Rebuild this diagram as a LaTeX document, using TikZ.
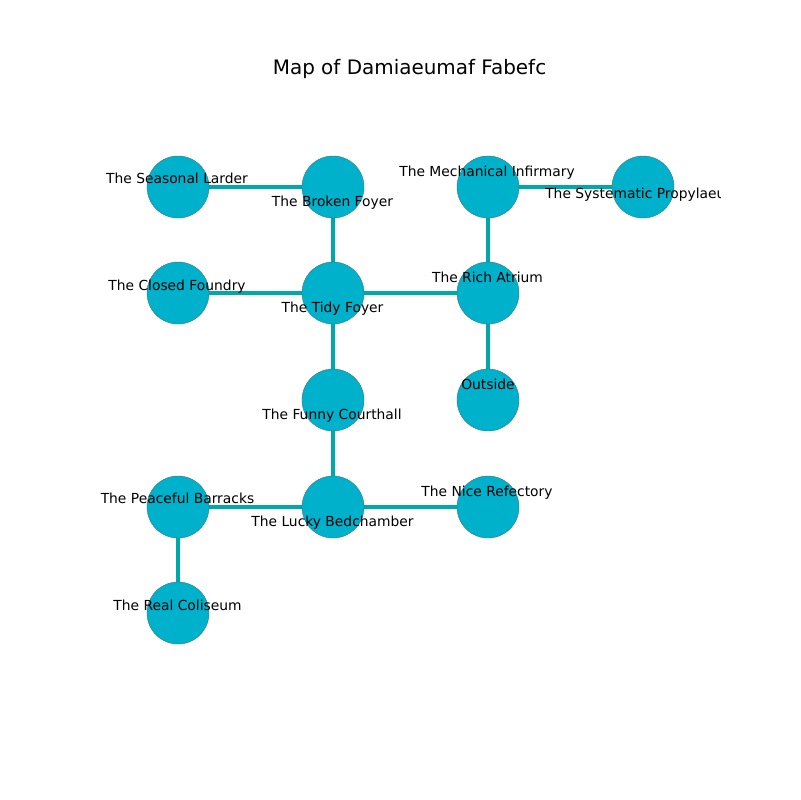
\documentclass[tikz,border=0pt]{standalone}
\usepackage{fontspec}
\setmainfont{DejaVu Sans}
\usetikzlibrary{backgrounds}
\definecolor{roomfill}{RGB}{0,177,203}
\definecolor{roomedge}{RGB}{60,120,130}
\definecolor{passage}{RGB}{0,168,170}
\begin{document}
\begin{tikzpicture}[x=0.01in,y=-0.01in,
  room/.style={circle,fill=roomfill,draw=roomedge,line width=0.3pt,minimum size=0.62in,inner sep=0pt},
  passage/.style={draw=passage,line width=0.045in},
  lbl/.style={font=\fontsize{10}{12}\selectfont,anchor=base,inner sep=0pt}]
\useasboundingbox (0,0) rectangle (800,800);
\node[font=\fontsize{14.4}{17}\selectfont,anchor=base,inner sep=0pt] (title) at (409.5,74.5) {Map of Damiaeumaf Fabefc};
\begin{scope}
\clip (100,96) rectangle (720,712);
% rooms
\node[room] (larder) at (178,187) {};
\node[room] (broken) at (333,187) {};
\node[room] (mech) at (488,187) {};
\node[room] (syst) at (643,187) {};
\node[room] (foundry) at (178,293) {};
\node[room] (tidy) at (333,293) {};
\node[room] (rich) at (488,293) {};
\node[room] (funny) at (333,400) {};
\node[room] (outside) at (488,400) {};
\node[room] (barracks) at (178,507) {};
\node[room] (lucky) at (333,507) {};
\node[room] (refectory) at (488,507) {};
\node[room] (coliseum) at (178,613) {};
% passages, kept beneath the rooms
\begin{scope}[on background layer]
\draw[passage] (larder) -- (broken);
\draw[passage] (mech) -- (syst);
\draw[passage] (broken) -- (tidy);
\draw[passage] (mech) -- (rich);
\draw[passage] (foundry) -- (tidy);
\draw[passage] (tidy) -- (rich);
\draw[passage] (rich) -- (outside);
\draw[passage] (tidy) -- (funny);
\draw[passage] (funny) -- (lucky);
\draw[passage] (barracks) -- (lucky);
\draw[passage] (lucky) -- (refectory);
\draw[passage] (barracks) -- (coliseum);
\end{scope}
% room names
\node[lbl] (tlarder) at (177,183.5) {The Seasonal Larder};
\node[lbl] (tbroken) at (332.5,206.5) {The Broken Foyer};
\node[lbl] (tmech) at (487,176.5) {The Mechanical Infirmary};
\node[lbl,anchor=base west] (tsyst) at (545,198.5) {The Systematic Propylaeum};
\node[lbl] (tfoundry) at (177,290.5) {The Closed Foundry};
\node[lbl] (ttidy) at (332.5,312.5) {The Tidy Foyer};
\node[lbl] (trich) at (487.5,282.5) {The Rich Atrium};
\node[lbl] (toutside) at (488,389.5) {Outside};
\node[lbl] (tfunny) at (332,419.5) {The Funny Courthall};
\node[lbl] (tbarracks) at (177.5,503.5) {The Peaceful Barracks};
\node[lbl] (tlucky) at (332.5,526.5) {The Lucky Bedchamber};
\node[lbl] (trefectory) at (487,496.5) {The Nice Refectory};
\node[lbl] (tcoliseum) at (177.5,610.5) {The Real Coliseum};
\end{scope}
\end{tikzpicture}
\end{document}
